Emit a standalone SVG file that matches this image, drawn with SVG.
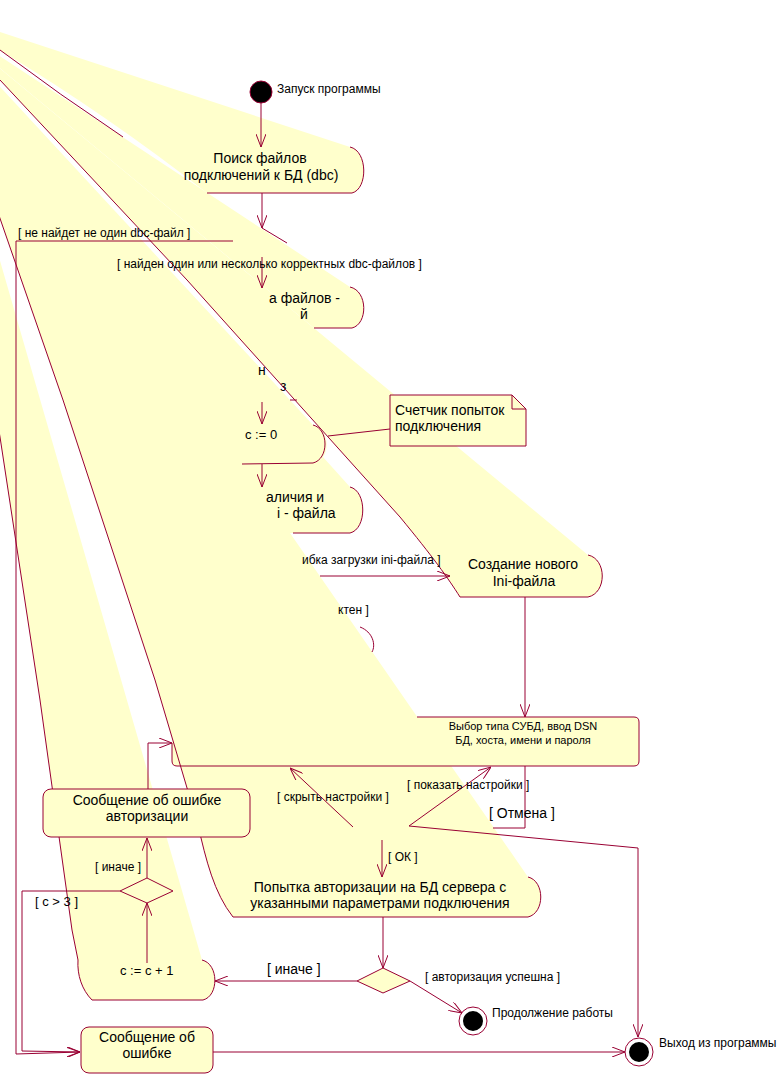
<svg xmlns="http://www.w3.org/2000/svg" width="777" height="1074" viewBox="0 0 777 1074">
<defs>
<marker id="arr" viewBox="0 0 13 10" refX="13" refY="5" markerWidth="13" markerHeight="10" markerUnits="userSpaceOnUse" orient="auto">
<path d="M0,0 L13,5 L0,10" fill="none" stroke="#990033" stroke-width="1"/>
</marker>
<style>
.y{fill:#FFFFCC;stroke:none}
.ln{fill:none;stroke:#990033;stroke-width:1}
.nd{fill:#FFFFCC;stroke:#990033;stroke-width:1}
.t{font-family:"Liberation Sans",Arial,sans-serif;font-size:14px;fill:#000}
.s{font-size:12px}
.m{font-size:11px}
.k{font-size:13px}
.c{text-anchor:middle}
</style>
</defs>
<rect width="777" height="1074" fill="#fff"/>
<g id="fills">
<path class="y" d="M-73,8 L350,147 C368,151 368,189 352,193 L207,193 Q74,89 -73,8 Z"/>
<path class="y" d="M-73,8 L350,287 C368,291 368,324 352,328 L314,328 Z"/>
<path class="y" d="M-73,8 L588,555 C607,559 607,593 588,597 L460,597 C448,578 433,557 400,517 L187,280 L0,80 Z"/>
<path class="y" d="M-73,8 L313,425 C329,429 329,450 323,457 L350,487 C367,491 367,529 350,533 L290,533 L528,877 C545,881 545,913 528,917 L233,917 C214,893 206,860 198,825 L155,680 L63,400 Z"/>
<path class="y" d="M-73,8 L202,960 C219,964 219,996 203,1000 L92,1000 C82,990 77,975 78,960 L72,930 L40,700 L0,437 Z"/>
</g>
<g id="start">
<circle cx="261" cy="92" r="11" fill="#000" stroke="#990033"/>
<text class="t s" x="277" y="93">Запуск программы</text>
</g>
<g id="n1">
<path class="ln" d="M350,147 C368,151 368,189 352,193 L207,193"/>
<path class="ln" d="M123,137 Q60,95 0,50"/>
<text class="t c" x="260" y="163">Поиск файлов</text>
<text class="t c" x="261" y="180">подключений к БД (dbc)</text>
</g>
<g id="d1">
<path class="ln" d="M262,228 L287,243"/>
</g>
<g id="n2">
<path class="ln" d="M350,287 C368,291 368,324 352,328 L314,328"/>
<text class="t" x="269" y="303">а файлов -</text>
<text class="t" x="300" y="319">й</text>
</g>
<g id="n3">
<path class="ln" d="M290,400 L297,400"/>
<text class="t" x="258" y="375">н</text>
<text class="t" x="280" y="391">з</text>
</g>
<g id="n4">
<path class="ln" d="M313,425 C329,429 329,459 313,463 L242,464"/>
<text class="t k" x="245" y="439">c := 0</text>
</g>
<g id="note">
<path class="nd" d="M390,395 L512,395 L526,409 L526,446 L390,446 Z"/>
<path class="ln" d="M512,395 L512,409 L526,409"/>
<text class="t" x="395" y="415">Счетчик попыток</text>
<text class="t" x="395" y="431">подключения</text>
</g>
<g id="n5">
<path class="ln" d="M350,487 C367,491 367,529 350,533 L293,533"/>
<text class="t" x="266" y="502">аличия и</text>
<text class="t" x="277" y="518">i - файла</text>
</g>
<g id="n6">
<path class="ln" d="M588,555 C607,559 607,593 588,597 L460,597 C448,578 433,557 400,517 L187,280 L0,80 L-73,8"/>
<text class="t c" x="523" y="569">Создание нового</text>
<text class="t c" x="524" y="586">Ini-файла</text>
</g>
<g id="n7">
<path class="ln" d="M360,627 C373,632 376,645 372,652"/>
</g>
<g id="n8">
<path class="y" d="M180,717 L634,717 Q639,717 639,722 L639,761 Q639,766 634,766 L177,766 Q172,766 172,761 L172,743 Z"/>
<path class="ln" d="M417,717 L634,717 Q639,717 639,722 L639,761 Q639,766 634,766 L177,766 Q172,766 172,761 L172,743"/>
<text class="t m c" x="523" y="730">Выбор типа СУБД, ввод DSN</text>
<text class="t m c" x="523" y="744">БД, хоста, имени и пароля</text>
</g>
<g id="n9">
<path class="ln" d="M528,877 C545,881 545,913 528,917 L233,917 C214,893 206,860 198,825 L155,680 L63,400 L-73,8"/>
<text class="t c" x="380" y="892">Попытка авторизации на БД сервера с</text>
<text class="t c" x="380" y="908">указанными параметрами подключения</text>
</g>
<g id="n10">
<path class="ln" d="M202,960 C219,964 219,996 203,1000 L92,1000 C82,990 77,975 78,960 L72,930 L40,700 L0,437 L-73,8"/>
<text class="t k" x="120" y="975">c := c + 1</text>
</g>
<g id="n11">
<rect class="nd" x="43" y="789" width="207" height="48" rx="8"/>
<text class="t c" x="147" y="805">Сообщение об ошибке</text>
<text class="t c" x="147" y="821">авторизации</text>
</g>
<g id="d2">
<path class="nd" d="M120,891 L147,878 L173,891 L147,903 Z"/>
</g>
<g id="d3">
<path class="nd" d="M357,981 L383,968 L410,981 L383,993 Z"/>
</g>
<g id="end1">
<circle cx="473" cy="1021" r="14" fill="#fff" stroke="#990033"/>
<circle cx="473" cy="1021" r="10" fill="#000"/>
<text class="t s" x="492" y="1017">Продолжение работы</text>
</g>
<g id="n12">
<rect class="nd" x="81" y="1027" width="132" height="46" rx="8"/>
<text class="t c" x="147" y="1042">Сообщение об</text>
<text class="t c" x="147" y="1058">ошибке</text>
</g>
<g id="end2">
<circle cx="639" cy="1052" r="14" fill="#fff" stroke="#990033"/>
<circle cx="639" cy="1052" r="10" fill="#000"/>
<text class="t s" x="659" y="1047">Выход из программы</text>
</g>
<g id="connectors">
<path class="ln" marker-end="url(#arr)" d="M261,103 L261,147"/>
<path class="ln" marker-end="url(#arr)" d="M262,193 L262,228"/>
<path class="ln" marker-end="url(#arr)" d="M233,241 L16,241 L16,1054 L80,1052"/>
<path class="ln" marker-end="url(#arr)" d="M262,257 L262,288"/>
<path class="ln" marker-end="url(#arr)" d="M262,402 L262,424"/>
<path class="ln" marker-end="url(#arr)" d="M262,464 L262,487"/>
<path class="ln" marker-end="url(#arr)" d="M320,576 L450,576"/>
<path class="ln" marker-end="url(#arr)" d="M525,597 L525,717"/>
<path class="ln" d="M525,766 L525,828 L493,828"/>
<path class="ln" marker-end="url(#arr)" d="M353,827 L290,768"/>
<path class="ln" marker-end="url(#arr)" d="M409,826 L491,767"/>
<path class="ln" marker-end="url(#arr)" d="M409,826 L638,848 L638,1037"/>
<path class="ln" marker-end="url(#arr)" d="M382,840 L382,877"/>
<path class="ln" marker-end="url(#arr)" d="M383,917 L383,968"/>
<path class="ln" marker-end="url(#arr)" d="M357,981 L215,981"/>
<path class="ln" marker-end="url(#arr)" d="M410,981 L462,1013"/>
<path class="ln" marker-end="url(#arr)" d="M213,1052 L625,1052"/>
<path class="ln" marker-end="url(#arr)" d="M147,963 L147,903"/>
<path class="ln" marker-end="url(#arr)" d="M147,878 L147,838"/>
<path class="ln" marker-end="url(#arr)" d="M148,789 L148,743 L172,743"/>
<path class="ln" marker-end="url(#arr)" d="M120,891 L22,891 L22,1051 L80,1052"/>
<path class="ln" d="M328,436 L390,429"/>
<text class="t s" x="18" y="237">[ не найдет не один dbc-файл ]</text>
<text class="t s" x="117" y="268">[ найден один или несколько корректных dbc-файлов ]</text>
<text class="t s" x="302" y="564">ибка загрузки ini-файла ]</text>
<text class="t s" x="338" y="614">ктен ]</text>
<text class="t s" x="277" y="801">[ скрыть настройки ]</text>
<text class="t s" x="407" y="789">[ показать настройки ]</text>
<text class="t" x="489" y="818">[ Отмена ]</text>
<text class="t s" x="388" y="861">[ ОК ]</text>
<text class="t s" x="95" y="871">[ иначе ]</text>
<text class="t k" x="35" y="906">[ c &gt; 3 ]</text>
<text class="t" x="267" y="974">[ иначе ]</text>
<text class="t s" x="425" y="981">[ авторизация успешна ]</text>
</g>
</svg>
